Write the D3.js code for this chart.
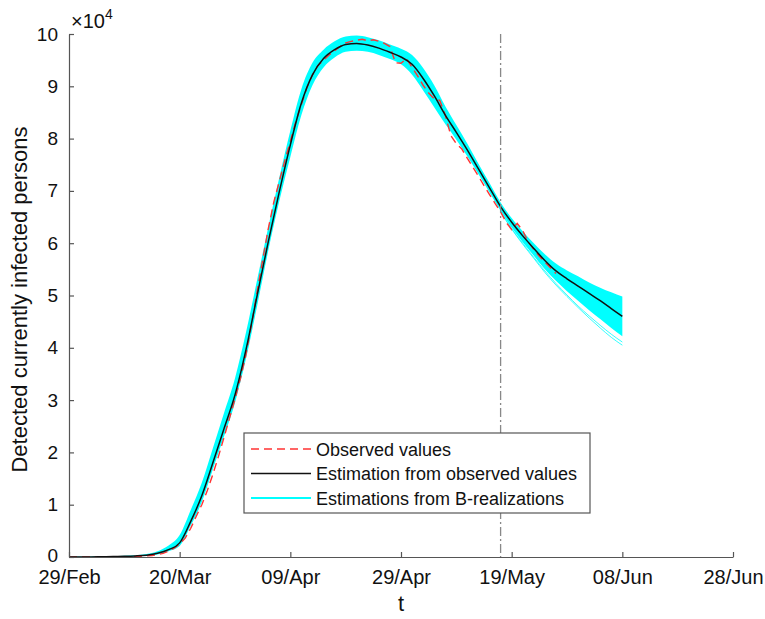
<!DOCTYPE html>
<html>
<head>
<meta charset="utf-8">
<script src="https://cdn.jsdelivr.net/npm/d3@7"></script>
<style>
  html, body { margin: 0; padding: 0; background: #fff; }
  svg { display: block; font-family: "Liberation Sans", Arial, sans-serif; }
  .axis path, .axis line { stroke: #555; stroke-width: 1.2; }
  .axis text { fill: #111; }
</style>
</head>
<body>
<div id="chart"></div>
<script>
// x axis tick labels (every 20 days from 29/Feb)
const tickLabels = ["29/Feb", "20/Mar", "09/Apr", "29/Apr", "19/May", "08/Jun", "28/Jun"];
// day index of the forecast start (dash-dot line)
const cutDay = 78;

// observed values, one per day from 29/Feb (x10^4)
const observed = [
  0, 0, 0, 0, 0.001, 0.001, 0.002, 0.002, 0.003, 0.004,
  0.006, 0.008, 0.011, 0.015, 0.02, 0.03, 0.045, 0.07, 0.11, 0.17,
  0.25, 0.36, 0.55, 0.78, 1.0, 1.27, 1.58, 1.92, 2.28, 2.65,
  3.02, 3.42, 3.88, 4.45, 5.08, 5.68, 6.27, 6.78, 7.18, 7.58,
  7.95, 8.33, 8.65, 8.98, 9.22, 9.4, 9.5, 9.6, 9.68, 9.76,
  9.83, 9.86, 9.88, 9.9, 9.87, 9.89, 9.86, 9.82, 9.76, 9.45,
  9.44, 9.53, 9.36, 9.2, 9.02, 8.87, 8.76, 8.73, 8.45, 8.06,
  7.9, 7.8, 7.62, 7.45, 7.28, 7.1, 6.93, 6.76, 6.6, 6.4,
  6.26, 6.38, 6.24, 6.02, 5.88, 5.75, 5.64, 5.53, 5.42
];

// estimation from observed values, every 2 days from 29/Feb (x10^4)
const estimate = [
  0, 0, 0.002, 0.005, 0.008, 0.012, 0.02, 0.035, 0.07, 0.14,
  0.27, 0.68, 1.17, 1.8, 2.45, 3.1, 3.97, 5.0, 6.02, 6.98,
  7.88, 8.68, 9.22, 9.53, 9.7, 9.8, 9.82, 9.79, 9.73, 9.65,
  9.56, 9.42, 9.15, 8.82, 8.45, 8.12, 7.78, 7.42, 7.06, 6.7,
  6.4, 6.14, 5.9, 5.67, 5.47, 5.32, 5.18, 5.04, 4.9, 4.75,
  4.6
];

// envelope of the B-realizations, every 2 days (x10^4)
const bandHigh = [
  0.01, 0.01, 0.01, 0.012, 0.016, 0.022, 0.032, 0.055, 0.11, 0.22,
  0.42, 0.9, 1.42, 2.08, 2.75, 3.42, 4.3, 5.3, 6.3, 7.25,
  8.15, 8.95, 9.45, 9.7, 9.86, 9.95, 9.97, 9.94, 9.88, 9.8,
  9.72, 9.6, 9.35, 9.02, 8.62, 8.26, 7.9, 7.52, 7.15, 6.78,
  6.48, 6.23, 6.0, 5.79, 5.61, 5.48, 5.37, 5.25, 5.15, 5.06,
  4.98
];
const bandLow = [
  0, 0, 0, 0, 0.002, 0.005, 0.01, 0.022, 0.05, 0.11,
  0.21, 0.6, 1.05, 1.68, 2.3, 2.95, 3.8, 4.8, 5.85, 6.8,
  7.65, 8.45, 9.02, 9.36, 9.55, 9.66, 9.68, 9.66, 9.6, 9.52,
  9.42, 9.22, 8.92, 8.6, 8.28, 7.98, 7.66, 7.32, 6.97, 6.62,
  6.3, 6.02, 5.76, 5.5, 5.28, 5.08, 4.9, 4.72, 4.55, 4.38,
  4.22
];
// lowest single realizations in the forecast tail, every 2 days from day 78
const tailLow1 = [6.6, 6.27, 5.98, 5.71, 5.44, 5.2, 4.98, 4.77, 4.57, 4.38, 4.2, 4.05];
const tailLow2 = [6.61, 6.28, 6.0, 5.73, 5.47, 5.23, 5.01, 4.8, 4.61, 4.43, 4.26, 4.11];

const W = 765, H = 619;
const margin = { left: 69, right: 32, top: 34, bottom: 62 };

const svg = d3.select("#chart").append("svg")
  .attr("width", W).attr("height", H);

const t0 = new Date(2020, 1, 29);
const day = i => d3.timeDay.offset(t0, i);

const x = d3.scaleTime()
  .domain([t0, day(120)])
  .range([margin.left, W - margin.right]);
const y = d3.scaleLinear()
  .domain([0, 10])
  .range([H - margin.bottom, margin.top]);

const step2 = (v, i) => ({ d: i * 2, v: v });

// B-realizations band
const area = d3.area()
  .x(d => x(day(d.d)))
  .y0(d => y(d.lo))
  .y1(d => y(d.hi))
  .curve(d3.curveMonotoneX);
svg.append("path")
  .datum(bandHigh.map((v, i) => ({ d: i * 2, hi: v, lo: bandLow[i] })))
  .attr("fill", "#00ffff")
  .attr("d", area);

const line = d3.line()
  .x(d => x(day(d.d)))
  .y(d => y(d.v))
  .curve(d3.curveMonotoneX);

[tailLow1, tailLow2].forEach(arr => {
  svg.append("path")
    .datum(arr.map((v, i) => ({ d: cutDay + i * 2, v: v })))
    .attr("fill", "none")
    .attr("stroke", "#00ffff")
    .attr("stroke-width", 0.8)
    .attr("d", line);
});

// observed values
svg.append("path")
  .datum(observed.map((v, i) => ({ d: i, v: v })))
  .attr("fill", "none")
  .attr("stroke", "#ff3333")
  .attr("stroke-width", 1.4)
  .attr("stroke-dasharray", "8,5")
  .attr("d", d3.line().x(d => x(day(d.d))).y(d => y(d.v)));

// estimation
svg.append("path")
  .datum(estimate.map(step2))
  .attr("fill", "none")
  .attr("stroke", "#111")
  .attr("stroke-width", 1.5)
  .attr("d", line);

// forecast start
svg.append("line")
  .attr("x1", x(day(cutDay))).attr("x2", x(day(cutDay)))
  .attr("y1", y(10)).attr("y2", y(0))
  .attr("stroke", "#888")
  .attr("stroke-width", 1.3)
  .attr("stroke-dasharray", "9,3,2,3");

// axes
const xAxis = svg.append("g")
  .attr("class", "axis")
  .attr("transform", `translate(0,${y(0)})`)
  .call(d3.axisBottom(x)
    .tickValues(tickLabels.map((t, i) => day(i * 20)))
    .tickFormat((d, i) => tickLabels[i])
    .tickSizeInner(-5).tickSizeOuter(0).tickPadding(13));
xAxis.selectAll("text").attr("font-size", 20);

const yAxis = svg.append("g")
  .attr("class", "axis")
  .attr("transform", `translate(${x(t0)},0)`)
  .call(d3.axisLeft(y)
    .ticks(10)
    .tickSizeInner(-5).tickSizeOuter(0).tickPadding(11));
yAxis.selectAll("text").attr("font-size", 19);
yAxis.selectAll(".tick text").filter(d => d === 0).attr("dy", "0.25em");

// exponent label
const ex = svg.append("text")
  .attr("x", 71).attr("y", 28)
  .attr("font-size", 20).attr("fill", "#111");
ex.append("tspan").text("\u00d710");
ex.append("tspan").attr("font-size", 14).attr("dy", -9).text("4");

// axis titles
svg.append("text")
  .attr("x", x(day(60))).attr("y", 611)
  .attr("text-anchor", "middle")
  .attr("font-size", 22).attr("fill", "#111")
  .text("t");

svg.append("text")
  .attr("transform", `translate(27,${(y(0) + y(10)) / 2 + 4}) rotate(-90)`)
  .attr("text-anchor", "middle")
  .attr("font-size", 22).attr("fill", "#111")
  .text("Detected currently infected persons");

// legend
const lg = svg.append("g").attr("transform", "translate(244,433)");
lg.append("rect")
  .attr("width", 346).attr("height", 80)
  .attr("fill", "#fff").attr("stroke", "#555").attr("stroke-width", 1.2);
const items = [
  { label: "Observed values", color: "#ff3333", dash: "8,5", w: 1.4 },
  { label: "Estimation from observed values", color: "#111", dash: null, w: 1.3 },
  { label: "Estimations from B-realizations", color: "#00ffff", dash: null, w: 2 }
];
items.forEach((it, i) => {
  const cy = 16 + i * 24.5;
  lg.append("line")
    .attr("x1", 7).attr("x2", 67).attr("y1", cy).attr("y2", cy)
    .attr("stroke", it.color).attr("stroke-width", it.w)
    .attr("stroke-dasharray", it.dash);
  lg.append("text")
    .attr("x", 72).attr("y", cy + 6.5)
    .attr("font-size", 18).attr("fill", "#111")
    .text(it.label);
});
</script>
</body>
</html>
